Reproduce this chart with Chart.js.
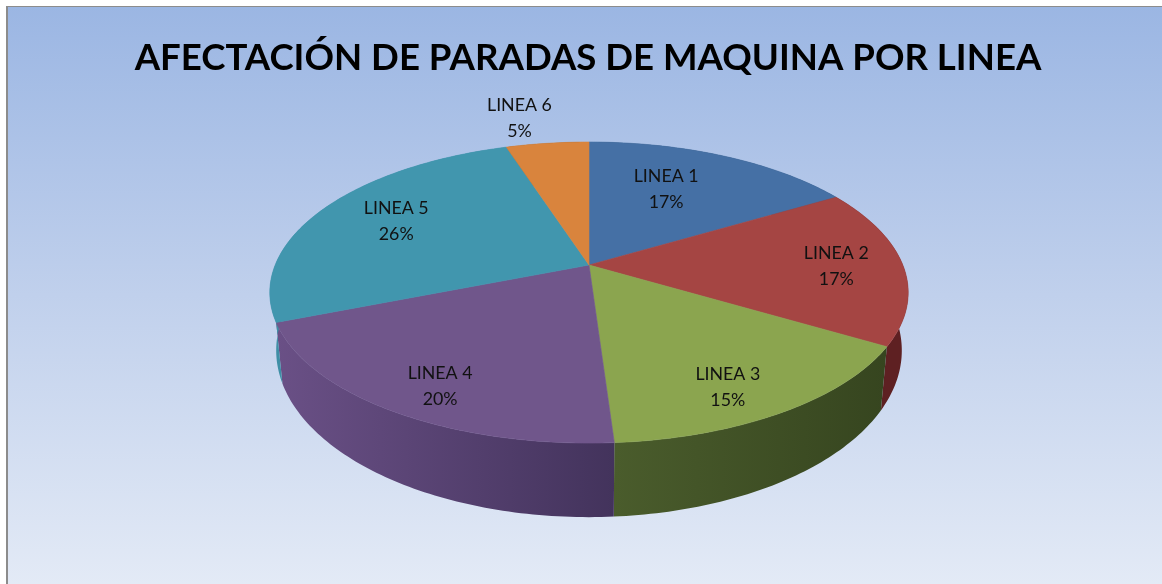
<!DOCTYPE html>
<html><head><meta charset="utf-8">
<style>html,body{margin:0;padding:0;background:#fff;overflow:hidden}#w{width:1162px;height:584px}</style>
<script src="https://cdn.jsdelivr.net/npm/chart.js@4"></script>
</head><body><div id="w"><canvas id="c" width="1162" height="584"></canvas></div>
<script>
const titleText = 'AFECTACIÓN DE PARADAS DE MAQUINA POR LINEA';
const categories = ['LINEA 1','LINEA 2','LINEA 3','LINEA 4','LINEA 5','LINEA 6'];
const values = [16.5,17,15.45,20.05,26,5];
const topColors = ['#4570a5','#a54543','#8ba54f','#70568b','#4196ae','#d9843d'];
const sideFrom = ['#2c4a70','#551a1e','#36451f','#43335c','#3f8fa6','#8a5222'];
const sideTo   = ['#2c4a70','#5e2022','#4a5c2c','#6a5086','#3f8fa6','#8a5222'];
const labelShift = [[-8,-6],[59,1],[30,40],[-38,40],[-30,-8],[-43,-69]];

// perspective projection of the pie plane
const view = {cx:589, cy:265, a:313.8, b:145.5, p:0.183, f:0.6, xs:0.98, dA:85, dB:-30};
function project(theta, r){
  const u = r*Math.sin(theta), v = -r*Math.cos(theta), w = 1 - view.p*v;
  return {x:view.cx + view.a*u/w, y:view.cy + view.b*v/w, w};
}
function lower(theta){
  const t = project(theta,1);
  return {x:view.cx + (t.x-view.cx)*view.xs, y:t.y + view.dA/t.w + view.dB};
}

// draw each library arc on the tilted pie plane
Chart.ArcElement.prototype.draw = function(ctx){
  const s = this.startAngle + Math.PI/2, e = this.endAngle + Math.PI/2;
  const n = Math.max(4, Math.ceil((e-s)*60));
  ctx.save();
  ctx.beginPath();
  const o = project(0,0);
  ctx.moveTo(o.x,o.y);
  for(let i=0;i<=n;i++){const p=project(s+(e-s)*i/n,1);ctx.lineTo(p.x,p.y);}
  ctx.closePath();
  ctx.fillStyle = this.options.backgroundColor;
  ctx.fill();
  ctx.strokeStyle = this.options.backgroundColor;
  ctx.lineWidth = 0.6;
  ctx.stroke();
  ctx.restore();
};

const backdrop = {
  id:'backdrop',
  beforeDraw(chart){
    const c = chart.ctx;
    const g = c.createLinearGradient(0,6,0,584);
    g.addColorStop(0,'#9bb6e3');
    g.addColorStop(0.5,'#c0d0ec');
    g.addColorStop(1,'#e3eaf6');
    c.save();
    c.fillStyle = g;
    c.fillRect(7,6,1155,578);
    c.fillStyle = '#8c8c8c';
    c.fillRect(6,6,1156,1);
    c.fillRect(6,6,2,578);
    c.restore();
  }
};
const rim = {
  id:'rim',
  beforeDatasetsDraw(chart){
    const c = chart.ctx, arcs = chart.getDatasetMeta(0).data;
    c.save();
    arcs.forEach((a,k)=>{
      const s=a.startAngle+Math.PI/2, e=a.endAngle+Math.PI/2;
      const m=Math.max(8,Math.ceil((e-s)*60));
      c.beginPath();
      for(let i=0;i<=m;i++){const p=project(s+(e-s)*i/m,1);i?c.lineTo(p.x,p.y):c.moveTo(p.x,p.y);}
      for(let i=m;i>=0;i--){const p=lower(s+(e-s)*i/m);c.lineTo(p.x,p.y);}
      c.closePath();
      const x0=project(s,1).x, x1=project(e,1).x;
      const g=c.createLinearGradient(x0,0,x1===x0?x0+1:x1,0);
      g.addColorStop(0,sideFrom[k]);
      g.addColorStop(1,sideTo[k]);
      c.fillStyle=g;
      c.fill();
    });
    c.restore();
  }
};
const sliceLabels = {
  id:'sliceLabels',
  afterDatasetsDraw(chart){
    const c = chart.ctx, arcs = chart.getDatasetMeta(0).data;
    const total = values.reduce((a,b)=>a+b,0);
    c.save();
    c.font = '17.8px Lato';
    c.fillStyle = '#111';
    c.textAlign = 'center';
    c.textBaseline = 'middle';
    arcs.forEach((a,k)=>{
      const mid=(a.startAngle+a.endAngle)/2+Math.PI/2;
      const p=project(mid,view.f);
      const x=p.x+labelShift[k][0], y=p.y+labelShift[k][1];
      c.fillText(categories[k],x,y-13);
      c.fillText(Math.round(values[k]/total*100)+'%',x,y+13);
    });
    c.restore();
  }
};
new Chart(document.getElementById('c'),{
  type:'pie',
  data:{labels:categories,datasets:[{data:values,backgroundColor:topColors,borderWidth:0}]},
  options:{
    responsive:false,animation:false,
    layout:{padding:{left:14,top:0,right:0,bottom:0}},
    plugins:{
      legend:{display:false},tooltip:{enabled:false},
      title:{display:true,text:titleText,color:'#000',font:{family:'Lato',size:36.6,weight:'bold'},padding:{top:36,bottom:10}}
    }
  },
  plugins:[backdrop,rim,sliceLabels]
});
</script></body></html>
